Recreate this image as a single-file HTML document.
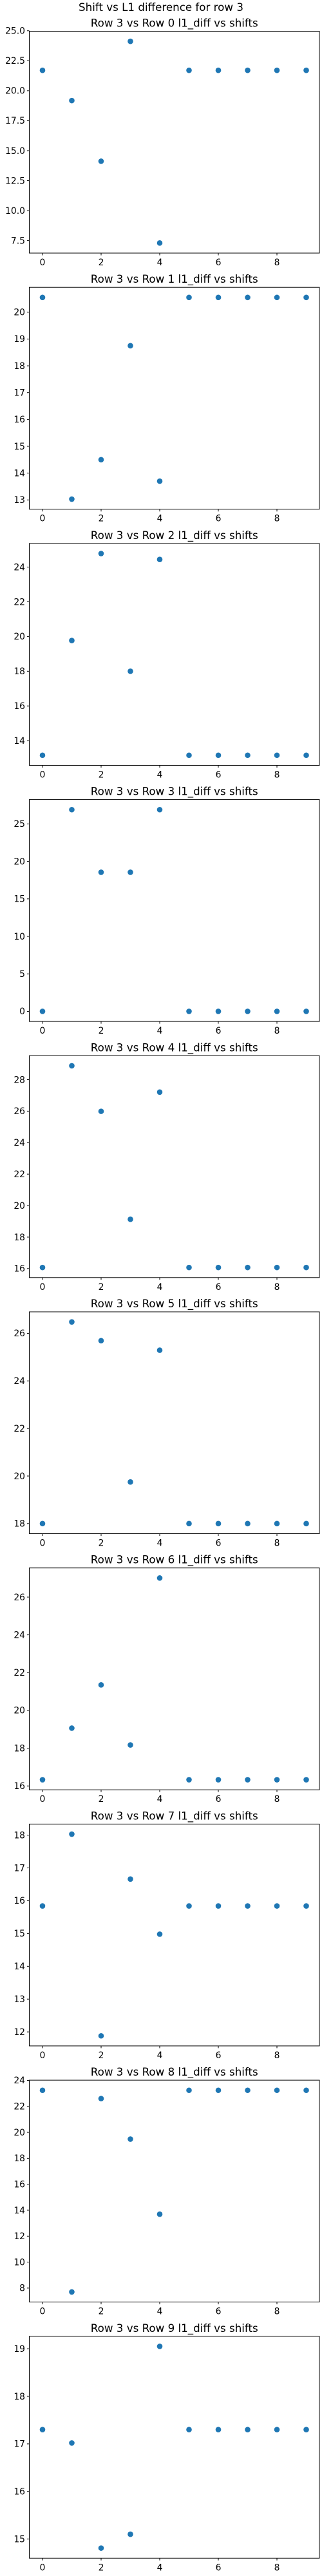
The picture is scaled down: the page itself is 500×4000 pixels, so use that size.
<!DOCTYPE html>
<html><head><meta charset="utf-8">
<style>
html,body{margin:0;padding:0;background:#fff;}
svg{display:block;font-family:"DejaVu Sans","Liberation Sans",sans-serif;}
</style></head>
<body>
<svg id="fig" width="500" height="4000" viewBox="0 0 500 4000" xmlns="http://www.w3.org/2000/svg">
<rect width="500" height="4000" fill="#fff"/>
<text x="250" y="17" font-size="16.7" text-anchor="middle" fill="#000">Shift vs L1 difference for row 3</text>
</svg>
<script>
const shifts = [0,1,2,3,4,5,6,7,8,9];
const xTicks = [0,2,4,6,8];
const titles = ["Row 3 vs Row 0 l1_diff vs shifts","Row 3 vs Row 1 l1_diff vs shifts","Row 3 vs Row 2 l1_diff vs shifts","Row 3 vs Row 3 l1_diff vs shifts","Row 3 vs Row 4 l1_diff vs shifts","Row 3 vs Row 5 l1_diff vs shifts","Row 3 vs Row 6 l1_diff vs shifts","Row 3 vs Row 7 l1_diff vs shifts","Row 3 vs Row 8 l1_diff vs shifts","Row 3 vs Row 9 l1_diff vs shifts"];
const diffRow0 = [21.7,19.18,14.12,24.12,7.3,21.7,21.7,21.7,21.7,21.7];
const diffRow1 = [20.55,13.03,14.5,18.75,13.7,20.55,20.55,20.55,20.55,20.55];
const diffRow2 = [13.16,19.77,24.78,18.0,24.44,13.16,13.16,13.16,13.16,13.16];
const diffRow3 = [0,26.9,18.55,18.55,26.9,0,0,0,0,0];
const diffRow4 = [16.07,28.88,25.99,19.13,27.21,16.07,16.07,16.07,16.07,16.07];
const diffRow5 = [18.0,26.48,25.69,19.75,25.29,18.0,18.0,18.0,18.0,18.0];
const diffRow6 = [16.33,19.06,21.35,18.17,27.01,16.33,16.33,16.33,16.33,16.33];
const diffRow7 = [15.84,18.03,11.88,16.66,14.98,15.84,15.84,15.84,15.84,15.84];
const diffRow8 = [23.24,7.7,22.6,19.48,13.69,23.24,23.24,23.24,23.24,23.24];
const diffRow9 = [17.30,17.02,14.81,15.10,19.05,17.30,17.30,17.30,17.30,17.30];
const yTicks0 = ["7.5","10.0","12.5","15.0","17.5","20.0","22.5","25.0"];
const yTicks1 = ["13","14","15","16","17","18","19","20"];
const yTicks2 = ["14","16","18","20","22","24"];
const yTicks3 = ["0","5","10","15","20","25"];
const yTicks4 = ["16","18","20","22","24","26","28"];
const yTicks5 = ["18","20","22","24","26"];
const yTicks6 = ["16","18","20","22","24","26"];
const yTicks7 = ["12","13","14","15","16","17","18"];
const yTicks8 = ["8","10","12","14","16","18","20","22","24"];
const yTicks9 = ["15","16","17","18","19"];
const series = [diffRow0,diffRow1,diffRow2,diffRow3,diffRow4,diffRow5,diffRow6,diffRow7,diffRow8,diffRow9];
const yTickSets = [yTicks0,yTicks1,yTicks2,yTicks3,yTicks4,yTicks5,yTicks6,yTicks7,yTicks8,yTicks9];

const NS = "http://www.w3.org/2000/svg";
const svg = document.getElementById("fig");
function mk(tag, attrs, parent){
  const e = document.createElementNS(NS, tag);
  for (const k in attrs) e.setAttribute(k, attrs[k]);
  (parent||svg).appendChild(e);
  return e;
}
const L = 45.5, R = 496, H = 344.5;
for (let i = 0; i < 10; i++) {
  const top = 48.5 + 397.7 * i, bot = top + H;
  const g = mk("g", {});
  
  
  const vals = series[i];
  const mn = Math.min(...vals), mx = Math.max(...vals), rg = (mx - mn) || 1;
  const y0 = mn - 0.05 * rg, y1 = mx + 0.05 * rg;
  const xs = v => L + (v + 0.45) / 9.9 * (R - L);
  const ys = v => bot - (v - y0) / (y1 - y0) * H;
  const t = mk("text", {x: (L + R) / 2, y: top - 7, "font-size": 16.7, "text-anchor": "middle", fill: "#000"}, g);
  t.textContent = titles[i];
  
  
  // y ticks
  yTickSets[i].forEach(lab => {
    const v = parseFloat(lab), y = ys(v);
    const tk = mk("line", {x1: L - 3.5, x2: L, y1: y, y2: y, stroke: "#000", "stroke-width": 1}, g);
    
    
    const tl = mk("text", {x: L - 6.5, y: y + 4.8, "font-size": 13.9, "text-anchor": "end", fill: "#000"}, g);
    tl.textContent = lab;
    
    
  });
  xTicks.forEach(v => {
    const x = xs(v);
    const tk = mk("line", {x1: x, x2: x, y1: bot, y2: bot + 3.5, stroke: "#000", "stroke-width": 1}, g);
    
    
    const tl = mk("text", {x: x, y: bot + 19, "font-size": 13.9, "text-anchor": "middle", fill: "#000"}, g);
    tl.textContent = String(v);
    
    
  });
  vals.forEach((v, j) => {
    const c = mk("circle", {cx: xs(shifts[j]), cy: ys(v), r: 4.3, fill: "#1f77b4"}, g);
    
    
  });
  const fr = mk("rect", {x: L, y: top, width: R - L, height: H, fill: "none", stroke: "#000", "stroke-width": 1}, g);
  
  
}
</script>
</body></html>
